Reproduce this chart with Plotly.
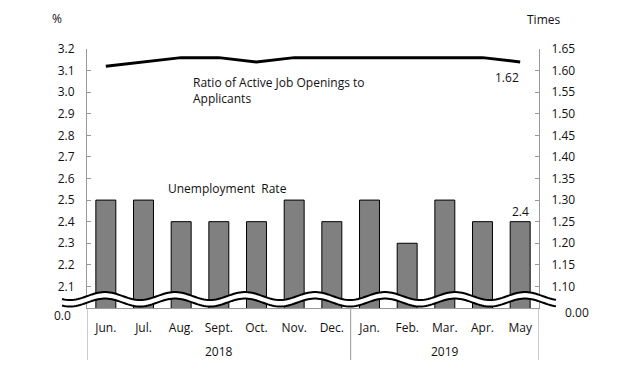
import math
import plotly.graph_objects as go

# ---- data ----
months = ["Jun.", "Jul.", "Aug.", "Sept.", "Oct.", "Nov.", "Dec.",
          "Jan.", "Feb.", "Mar.", "Apr.", "May"]
years = ["2018"] * 7 + ["2019"] * 5
unemployment_rate = [2.5, 2.5, 2.4, 2.4, 2.4, 2.5, 2.4, 2.5, 2.3, 2.5, 2.4, 2.4]
job_ratio = [1.61, 1.62, 1.63, 1.63, 1.62, 1.63, 1.63, 1.63, 1.63, 1.63, 1.63, 1.62]
left_ticks = [2.1, 2.2, 2.3, 2.4, 2.5, 2.6, 2.7, 2.8, 2.9, 3.0, 3.1, 3.2]
right_ticks = [1.10, 1.15, 1.20, 1.25, 1.30, 1.35, 1.40, 1.45, 1.50, 1.55, 1.60, 1.65]
left_break_label = "0.0"
right_break_label = "0.00"

# ---- layout geometry (page pixels; page body has an 8px margin) ----
BODY = 8
PAGE_W, PAGE_H = 631, 372
W, H = PAGE_W - 2 * BODY, PAGE_H - 2 * BODY
PX0, PX1, PY_TOP, PY_BOT = 87, 539, 49, 308   # plot area in page pixels
ML, MT = PX0 - BODY, PY_TOP - BODY
MR, MB = W - (PX1 - BODY), H - (PY_BOT - BODY)
PW, PH = PX1 - PX0, PY_BOT - PY_TOP
FONT = "Open Sans"
GRAY = "#999999"


def to_paper(px, py):
    return (px - PX0) / PW, (PY_BOT - py) / PH


fig = go.Figure()
fig.add_trace(go.Bar(
    x=months, y=unemployment_rate,
    marker=dict(color="#808080", line=dict(color="black", width=1)),
    yaxis="y", showlegend=False, hoverinfo="x+y",
))
fig.add_trace(go.Scatter(
    x=months, y=job_ratio, mode="lines",
    line=dict(color="black", width=3),
    yaxis="y2", showlegend=False,
))

shapes = []
# wavy axis-break band
xs = [62 + 2 * i for i in range(248)]
top = [296 - 4 * math.cos(2 * math.pi * (x - 105) / 70) for x in xs]
bot = [t + 6.5 for t in top]
ptop = [to_paper(x, y) for x, y in zip(xs, top)]
pbot = [to_paper(x, y) for x, y in zip(xs, bot)]


def path_of(pts):
    return "M " + " L ".join(f"{a:.5f},{b:.5f}" for a, b in pts)


shapes.append(dict(type="path", xref="paper", yref="paper",
                   path=path_of(ptop + pbot[::-1]) + " Z",
                   fillcolor="white", line=dict(width=0), layer="above"))
for pts in (ptop, pbot):
    shapes.append(dict(type="path", xref="paper", yref="paper",
                       path=path_of(pts), line=dict(color="black", width=2),
                       layer="above"))

# group dividers below the axis
div_y1 = to_paper(0, 360)[1]
bounds = [-0.5] + [i + 0.5 for i in range(len(years) - 1) if years[i] != years[i + 1]] + [len(years) - 0.5]
for b in bounds:
    shapes.append(dict(type="line", xref="x", yref="paper", x0=b, x1=b,
                       y0=0, y1=div_y1, line=dict(color=GRAY, width=1)))

annotations = []
# year group labels
for yr in dict.fromkeys(years):
    idx = [i for i, v in enumerate(years) if v == yr]
    annotations.append(dict(x=sum(idx) / len(idx), xref="x", y=to_paper(0, 351)[1], yref="paper",
                            xanchor="center", yanchor="middle",
                            text=yr, showarrow=False, font=dict(size=12)))


def pa(px, py, text, xanchor="center", **kw):
    x, y = to_paper(px, py)
    return dict(x=x, y=y, xref="paper", yref="paper", xanchor=xanchor, yanchor="middle",
                text=text, showarrow=False, font=dict(size=12), **kw)


annotations += [
    pa(57, 18, "%"),
    pa(543, 19, "Times"),
    pa(191, 90, "Ratio of Active Job Openings to<br>Applicants", xanchor="left", align="left"),
    pa(166, 188, "Unemployment  Rate", xanchor="left"),
    pa(73, 315, left_break_label, xanchor="right"),
    pa(563, 312, right_break_label, xanchor="left"),
    dict(x=months[-1], y=job_ratio[-1], xref="x", yref="y2", xanchor="center", yanchor="middle",
         text=f"{job_ratio[-1]:.2f}", showarrow=False, xshift=-13, yshift=-16, font=dict(size=12)),
    dict(x=months[-1], y=unemployment_rate[-1], xref="x", yref="y", xanchor="center",
         yanchor="bottom", text=f"{unemployment_rate[-1]:.1f}", showarrow=False, yshift=0,
         font=dict(size=12)),
]

fig.update_layout(
    width=W, height=H,
    margin=dict(l=ML, r=MR, t=MT, b=MB, pad=0),
    paper_bgcolor="white", plot_bgcolor="white",
    font=dict(family=FONT, size=12, color="#111111"),
    bargap=0.47,
    showlegend=False,
    xaxis=dict(type="category", categoryorder="array", categoryarray=months,
               range=[-0.5, len(months) - 0.5], showline=True, linecolor=GRAY,
               linewidth=1, ticks="", showgrid=False, ticklabelstandoff=9,
               tickfont=dict(size=12)),
    yaxis=dict(range=[2.0, 3.2], tickvals=left_ticks, tickformat=".1f",
               showline=True, linecolor=GRAY, linewidth=1, ticks="inside",
               ticklen=4, tickcolor=GRAY, showgrid=False, zeroline=False,
               ticklabelstandoff=9),
    yaxis2=dict(range=[1.05, 1.65], tickvals=right_ticks, tickformat=".2f",
                overlaying="y", side="right", showline=True, linecolor=GRAY,
                linewidth=1, ticks="inside", ticklen=4, tickcolor=GRAY,
                showgrid=False, zeroline=False, ticklabelstandoff=9),
    shapes=shapes,
    annotations=annotations,
)

fig.write_html("out.html")
